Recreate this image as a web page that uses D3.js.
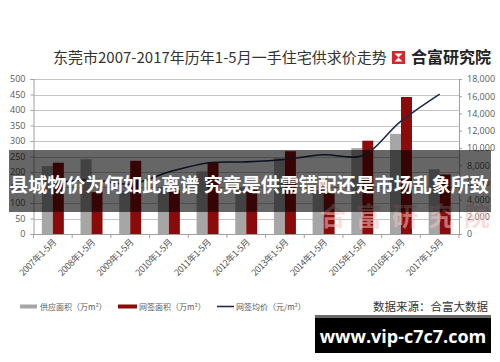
<!DOCTYPE html>
<html>
<head>
<meta charset="utf-8">
<script src="https://cdn.jsdelivr.net/npm/d3@7"></script>
<style>
  html, body { margin: 0; padding: 0; background: #fff; }
  svg { display: block; }
  text { font-family: "Noto Sans CJK SC", "Noto Sans", sans-serif; }
</style>
</head>
<body>
<div id="chart"></div>
<script>
const years = ["2007", "2008", "2009", "2010", "2011", "2012", "2013", "2014", "2015", "2016", "2017"];
const supplyArea = [219, 241, 140, 150, 202, 150, 245, 142, 277, 323, 209];
const dealArea = [230, 135, 236, 142, 232, 142, 267, 132, 301, 442, 192];
const dealPrice = [5900, 6300, 5800, 7200, 8250, 8380, 8650, 9200, 9100, 13100, 16250];
const leftTicks = d3.range(0, 501, 50);
const rightTicks = d3.range(0, 18001, 2000);

const palette = {
  ink: "#333333",
  axisText: "#595959",
  grid: "#c4c4c4",
  axis: "#a0a0a0",
  supply: "#a6a6a6",
  deal: "#8b0a0a",
  price: "#1f2a4d"
};

const width = 500;
const height = 362;
const plot = { left: 33.5, right: 459, top: 79, bottom: 234 };

const svg = d3.select("#chart").append("svg")
  .attr("width", width)
  .attr("height", height);

svg.append("rect").attr("width", width).attr("height", height).attr("fill", "#fff");

// title + brand
svg.append("text")
  .attr("x", 53)
  .attr("y", 63)
  .attr("fill", palette.ink)
  .attr("font-size", 15)
  .text("东莞市2007-2017年历年1-5月一手住宅供求价走势");

const logo = svg.append("g").attr("transform", "translate(392,51)");
logo.append("rect").attr("width", 13).attr("height", 13).attr("fill", "#d9232e");
logo.append("path")
  .attr("d", "M2.5,2.5 L10.5,2.5 L6.5,6.5 Z M2.5,10.5 L10.5,10.5 L6.5,6.5 Z")
  .attr("fill", "#fff");

svg.append("text")
  .attr("x", 411)
  .attr("y", 63)
  .attr("fill", "#222")
  .attr("font-size", 16)
  .attr("font-weight", 700)
  .text("合富研究院");

const x = d3.scaleBand().domain(years).range([plot.left, plot.right]);
const x1 = d3.scaleBand().domain(["supply", "deal"]).range([0, x.bandwidth()]).paddingOuter(0.76);
const yL = d3.scaleLinear().domain([0, 500]).range([plot.bottom, plot.top]);
const yR = d3.scaleLinear().domain([0, 18000]).range([plot.bottom, plot.top]);

// gridlines
svg.append("g")
  .selectAll("line")
  .data(leftTicks.slice(1))
  .join("line")
  .attr("x1", plot.left)
  .attr("x2", plot.right)
  .attr("y1", (d) => Math.round(yL(d)) + 0.5)
  .attr("y2", (d) => Math.round(yL(d)) + 0.5)
  .attr("stroke", palette.grid)
  .attr("stroke-width", 1);

// left axis
const leftAxis = svg.append("g")
  .attr("transform", `translate(${plot.left},0)`)
  .call(d3.axisLeft(yL).tickValues(leftTicks).tickSize(3).tickPadding(5));
leftAxis.select(".domain").attr("stroke", palette.axis);
leftAxis.selectAll(".tick line").attr("stroke", palette.axis);
leftAxis.selectAll(".tick text")
  .attr("fill", palette.axisText)
  .attr("font-size", 9)
  .style("font-family", "'Open Sans', 'DejaVu Sans', sans-serif");

// right axis
const rightAxis = svg.append("g")
  .attr("transform", `translate(${plot.right},0)`)
  .call(d3.axisRight(yR).tickValues(rightTicks).tickSize(3).tickPadding(5));
rightAxis.select(".domain").attr("stroke", palette.axis);
rightAxis.selectAll(".tick line").attr("stroke", palette.axis);
rightAxis.selectAll(".tick text")
  .attr("fill", palette.axisText)
  .attr("font-size", 9)
  .style("font-family", "'Open Sans', 'DejaVu Sans', sans-serif");

// bars
const groups = svg.append("g")
  .selectAll("g")
  .data(years)
  .join("g")
  .attr("transform", (d) => `translate(${x(d)},0)`);

groups.append("rect")
  .attr("x", x1("supply"))
  .attr("width", x1.bandwidth())
  .attr("y", (d, i) => yL(supplyArea[i]))
  .attr("height", (d, i) => yL(0) - yL(supplyArea[i]))
  .attr("fill", palette.supply);

groups.append("rect")
  .attr("x", x1("deal"))
  .attr("width", x1.bandwidth())
  .attr("y", (d, i) => yL(dealArea[i]))
  .attr("height", (d, i) => yL(0) - yL(dealArea[i]))
  .attr("fill", palette.deal);

// x axis
svg.append("line")
  .attr("x1", plot.left)
  .attr("x2", plot.right)
  .attr("y1", plot.bottom + 0.5)
  .attr("y2", plot.bottom + 0.5)
  .attr("stroke", palette.axis);

svg.append("g")
  .selectAll("line")
  .data(years.concat(["end"]))
  .join("line")
  .attr("x1", (d) => (d === "end" ? plot.right : x(d)))
  .attr("x2", (d) => (d === "end" ? plot.right : x(d)))
  .attr("y1", plot.bottom)
  .attr("y2", plot.bottom + 4)
  .attr("stroke", palette.axis);

svg.append("g")
  .selectAll("text")
  .data(years)
  .join("text")
  .attr("transform", (d) => `translate(${x(d) + x.bandwidth() / 2 + 4},${plot.bottom + 9}) rotate(-45)`)
  .attr("text-anchor", "end")
  .attr("fill", palette.axisText)
  .attr("font-size", 9)
  .attr("letter-spacing", -0.4)
  .text((d) => `${d}年1-5月`);

// price line
const line = d3.line()
  .x((d, i) => x(years[i]) + x.bandwidth() / 2)
  .y((d) => yR(d))
  .curve(d3.curveCatmullRom.alpha(0.5));

svg.append("path")
  .datum(dealPrice)
  .attr("d", line)
  .attr("fill", "none")
  .attr("stroke", palette.price)
  .attr("stroke-width", 1.6);

// faint watermark
svg.append("g")
  .selectAll("text")
  .data(["合", "富", "研", "究", "院"])
  .join("text")
  .attr("x", (d, i) => 333 + i * 36)
  .attr("y", 226)
  .attr("text-anchor", "middle")
  .attr("font-size", 26)
  .attr("font-weight", 700)
  .attr("fill", "#f2c4c4")
  .attr("opacity", 0.55)
  .text((d) => d);

// legend
const legend = svg.append("g").attr("font-size", 8).attr("fill", palette.axisText);
legend.append("rect").attr("x", 20).attr("y", 304.5).attr("width", 17).attr("height", 4).attr("fill", palette.supply);
legend.append("text").attr("x", 40).attr("y", 309.5).text("供应面积（万m²）");
legend.append("rect").attr("x", 118).attr("y", 304.5).attr("width", 19).attr("height", 4).attr("fill", palette.deal);
legend.append("text").attr("x", 139).attr("y", 309.5).text("网签面积（万m²）");
legend.append("line").attr("x1", 217).attr("x2", 234).attr("y1", 306.5).attr("y2", 306.5)
  .attr("stroke", palette.price).attr("stroke-width", 1.6);
legend.append("text").attr("x", 236).attr("y", 309.5).text("网签均价（元/m²）");

svg.append("text")
  .attr("x", 488)
  .attr("y", 311)
  .attr("text-anchor", "end")
  .attr("fill", palette.ink)
  .attr("font-size", 11.5)
  .text("数据来源：合富大数据");

// headline banner over the chart
svg.append("rect")
  .attr("x", 9)
  .attr("y", 150)
  .attr("width", 482)
  .attr("height", 62)
  .attr("fill", "#000")
  .attr("opacity", 0.6);

svg.append("text")
  .attr("x", 249)
  .attr("y", 192)
  .attr("text-anchor", "middle")
  .attr("fill", "#fff")
  .attr("font-size", 19)
  .attr("font-weight", 700)
  .text("县城物价为何如此离谱 究竟是供需错配还是市场乱象所致");

// site badge
svg.append("rect").attr("x", 315).attr("y", 315).attr("width", 176).attr("height", 4).attr("fill", "#6a6a6a");
svg.append("rect").attr("x", 315).attr("y", 318).attr("width", 176).attr("height", 35).attr("fill", "#000");
svg.append("text")
  .attr("x", 403)
  .attr("y", 343)
  .attr("text-anchor", "middle")
  .attr("fill", "#fff")
  .attr("font-size", 18)
  .attr("font-weight", 700)
  .style("font-family", "'Open Sans', 'DejaVu Sans', sans-serif")
  .text("www.vip-c7c7.com");
</script>
</body>
</html>
